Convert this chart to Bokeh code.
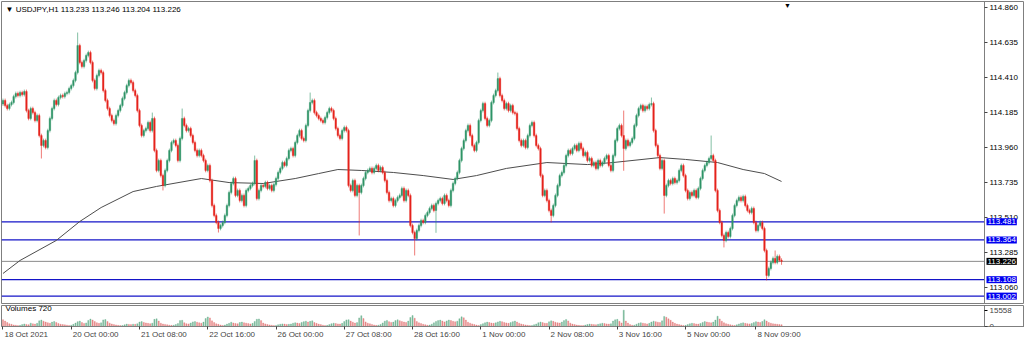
from bokeh.plotting import figure
from bokeh.models import (ColumnDataSource, Range1d, FixedTicker, Label, LinearAxis,
                          PrintfTickFormatter)
from bokeh.layouts import column
from bokeh.embed import file_html
from bokeh.resources import INLINE

# ---------------- data ----------------
title_text = "\u25BC USDJPY,H1  113.233 113.246 113.204 113.226"
volume_title = "Volumes 720"

first_open = 114.240
closes = [
    114.263, 114.230, 114.211, 114.237, 114.250, 114.288, 114.308, 114.295, 114.314, 114.301,
    114.321, 114.198, 114.147, 114.211, 114.185, 114.134, 114.166, 114.037, 113.973, 114.005,
    113.960, 114.069, 114.147, 114.211, 114.263, 114.237, 114.282, 114.295, 114.288, 114.308,
    114.314, 114.340, 114.359, 114.392, 114.443, 114.617, 114.508, 114.482, 114.520, 114.553,
    114.572, 114.508, 114.392, 114.340, 114.424, 114.456, 114.443, 114.327, 114.263, 114.211,
    114.166, 114.134, 114.114, 114.166, 114.198, 114.230, 114.276, 114.314, 114.359, 114.392,
    114.379, 114.327, 114.295, 114.198, 114.102, 114.037, 114.069, 114.082, 114.121, 114.069,
    114.147, 113.941, 113.812, 113.876, 113.779, 113.715, 113.812, 113.876, 113.941, 113.992,
    114.005, 113.973, 113.876, 114.018, 114.147, 114.102, 114.069, 114.082, 114.037, 113.992,
    113.941, 113.908, 113.941, 113.908, 113.876, 113.812, 113.844, 113.747, 113.586, 113.522,
    113.477, 113.438, 113.457, 113.477, 113.522, 113.586, 113.670, 113.728, 113.760, 113.651,
    113.683, 113.618, 113.651, 113.586, 113.683, 113.696, 113.715, 113.728, 113.876, 113.631,
    113.683, 113.715, 113.709, 113.734, 113.696, 113.715, 113.683, 113.721, 113.760, 113.799,
    113.825, 113.863, 113.844, 113.889, 113.941, 113.953, 113.908, 113.992, 114.037, 114.069,
    114.018, 114.005, 114.102, 114.198, 114.250, 114.263, 114.185, 114.166, 114.147, 114.134,
    114.121, 114.153, 114.185, 114.211, 114.198, 114.147, 114.082, 114.037, 114.018, 114.069,
    114.089, 114.069, 113.715, 113.683, 113.747, 113.651, 113.715, 113.670, 113.715, 113.760,
    113.799, 113.812, 113.825, 113.799, 113.825, 113.844, 113.812, 113.831, 113.799, 113.747,
    113.670, 113.618, 113.631, 113.586, 113.618, 113.638, 113.651, 113.696, 113.618, 113.683,
    113.651, 113.457, 113.412, 113.373, 113.425, 113.457, 113.489, 113.477, 113.522, 113.541,
    113.567, 113.586, 113.554, 113.599, 113.618, 113.631, 113.599, 113.651, 113.618, 113.586,
    113.683, 113.728, 113.760, 113.799, 113.876, 113.953, 114.005, 114.069, 114.102, 114.037,
    113.973, 113.941, 113.992, 114.134, 114.198, 114.243, 114.147, 114.102, 114.134, 114.250,
    114.295, 114.327, 114.404, 114.295, 114.263, 114.211, 114.243, 114.198, 114.230, 114.185,
    114.179, 114.082, 114.005, 113.973, 114.005, 113.960, 114.037, 114.102, 114.121, 114.037,
    113.973, 113.953, 113.779, 113.651, 113.683, 113.618, 113.554, 113.522, 113.586, 113.651,
    113.715, 113.779, 113.799, 113.844, 113.908, 113.941, 113.921, 113.953, 113.973, 113.941,
    113.986, 113.953, 113.908, 113.928, 113.876, 113.889, 113.844, 113.863, 113.825, 113.876,
    113.844, 113.863, 113.889, 113.908, 113.844, 113.812, 113.908, 114.005, 114.082, 114.102,
    114.037, 113.953, 114.005, 113.973, 113.992, 114.018, 114.102, 114.166, 114.211, 114.230,
    114.198, 114.224, 114.211, 114.237, 114.243, 114.069, 113.973, 113.908, 113.825, 113.876,
    113.651, 113.715, 113.747, 113.728, 113.760, 113.734, 113.747, 113.812, 113.844, 113.779,
    113.683, 113.631, 113.670, 113.651, 113.683, 113.638, 113.696, 113.760, 113.812, 113.844,
    113.863, 113.889, 113.908, 113.876, 113.683, 113.554, 113.477, 113.393, 113.361, 113.412,
    113.386, 113.438, 113.522, 113.586, 113.618, 113.638, 113.618, 113.644, 113.586, 113.554,
    113.541, 113.567, 113.477, 113.425, 113.457, 113.477, 113.438, 113.296, 113.135, 113.180,
    113.219, 113.245, 113.219, 113.258, 113.233, 113.226,
]
# bars whose wick reaches clearly beyond the body
high_spikes = {35: 114.701, 70: 114.185, 84: 114.211, 118: 113.908, 144: 114.314,
               232: 114.443, 291: 114.198, 304: 114.282, 332: 114.037, 362: 113.296,
               365: 113.246}
low_spikes = {18: 113.889, 75: 113.683, 101: 113.412, 167: 113.393, 193: 113.264,
              203: 113.410, 257: 113.477, 291: 113.810, 310: 113.534, 338: 113.316,
              358: 113.103, 365: 113.204}
wick = 0.012

volumes = [
    6500, 5200, 3800, 2600, 2100, 1500, 1200, 900,
    1100, 1800, 2400, 2000, 1700, 3200, 2600, 2300, 3000, 5400, 6200, 5100, 4300, 3600, 3100, 4200, 4800, 3900, 2900, 2200, 1900, 1600, 1300, 1000,
    1200, 2100, 3300, 4600, 5200, 3800, 2900, 3400, 5800, 7100, 6200, 4800, 3600, 3000, 3500, 6300, 6600, 4700, 3200, 2400, 1800, 1500, 1100, 900,
    1000, 1600, 2300, 2000, 1800, 2200, 2100, 2600, 4300, 4700, 3900, 3400, 3000, 2700, 3200, 6800, 7300, 5200, 3100, 2400, 2000, 1700, 1300, 1100,
    1200, 1900, 2800, 5600, 5900, 3600, 2700, 2500, 3300, 4400, 4700, 4100, 3500, 3100, 4200, 7600, 9100, 8200, 5400, 3800, 2600, 2100, 1500, 1000,
    1400, 2300, 3000, 4100, 3400, 2900, 2600, 3800, 4200, 3600, 3200, 2800, 2500, 3000, 4800, 6900, 7200, 5600, 3300, 2500, 1900, 1500, 1200, 900,
    1000, 1700, 2200, 2500, 2300, 2000, 2100, 2400, 3100, 3600, 3300, 2900, 3900, 4600, 5100, 4300, 4900, 5400, 3800, 3000, 2300, 1800, 1300, 1000,
    1100, 1800, 2700, 3200, 2900, 2500, 2400, 3000, 4700, 6300, 6500, 5200, 4100, 3300, 3700, 8200, 10300, 7600, 4400, 3200, 2600, 2000, 1500, 1100,
    1300, 2000, 3400, 5100, 5800, 4600, 3900, 4200, 5600, 6400, 5500, 4800, 4300, 3900, 5200, 8600, 10400, 7900, 4700, 3500, 2800, 2100, 1700, 1200,
    1400, 2200, 3500, 4800, 5600, 6100, 5200, 4400, 5300, 6200, 5700, 4900, 4500, 5100, 7400, 9200, 8300, 6100, 4100, 3200, 2500, 1900, 1400, 1000,
    1800, 2700, 3600, 4200, 3800, 3300, 3000, 3500, 4400, 5000, 4600, 3900, 3400, 3000, 3700, 4600, 5200, 4300, 3100, 2400, 1900, 1500, 1200, 900,
    1000, 1700, 2400, 3600, 4300, 3700, 3100, 3000, 4500, 5400, 4900, 4100, 3600, 3300, 4200, 5600, 6700, 5300, 3200, 2300, 1800, 1400, 1100, 900,
    900, 1400, 1900, 2300, 2100, 1800, 1700, 2100, 2600, 3100, 2900, 2500, 2300, 2600, 5200, 6400, 6800, 4900, 3400, 15558, 5200, 3300, 1800, 1200,
    1300, 2200, 3100, 3600, 3200, 2800, 2500, 3000, 4300, 5100, 4600, 4100, 3800, 5400, 9600, 8800, 7300, 5900, 4200, 3000, 2300, 1800, 1400, 1000,
    1100, 1800, 2600, 3100, 2800, 2400, 2300, 2900, 3900, 4700, 4300, 3800, 3500, 4200, 6100, 9800, 7200, 5100, 3600, 2700, 2100, 1700, 1300, 1000,
    1600, 2400, 3100, 3500, 3000, 2700, 2500, 2900, 3700, 4600, 4200, 3800, 4800, 6500, 5200, 3800, 3100, 2600, 2400, 2100, 1900, 1700,
]
volume_max_label = 15558

ma_bars = [0, 8, 25, 36, 46, 61, 72, 93, 106, 122, 137, 148, 157, 168, 183, 197, 211,
           222, 236, 255, 274, 286, 308, 320, 335, 347, 357, 365]
ma_values = [113.148, 113.232, 113.361, 113.483, 113.573, 113.676, 113.709, 113.760,
             113.734, 113.728, 113.760, 113.792, 113.818, 113.812, 113.799, 113.779,
             113.754, 113.779, 113.825, 113.863, 113.850, 113.863, 113.895, 113.883,
             113.863, 113.818, 113.792, 113.741]

time_tick_bars = [0, 32, 64, 96, 128, 160, 192, 224, 256, 288, 320, 353]
time_tick_labels = ["18 Oct 2021", "20 Oct 00:00", "21 Oct 08:00", "22 Oct 16:00",
                    "26 Oct 00:00", "27 Oct 08:00", "28 Oct 16:00", "1 Nov 00:00",
                    "2 Nov 08:00", "3 Nov 16:00", "5 Nov 00:00", "8 Nov 09:00"]
price_ticks = [114.860, 114.635, 114.410, 114.185, 113.960, 113.735, 113.510, 113.285, 113.060]
level_lines = [113.481, 113.364, 113.108, 113.002]
current_price = 113.226

# ---------------- derived OHLC ----------------
n = len(closes)
opens = [first_open] + closes[:-1]
xs = list(range(n))
highs, lows, tops, bots, cols = [], [], [], [], []
UP, DOWN = "#2f9467", "#e5231d"
for i in range(n):
    o, c = opens[i], closes[i]
    highs.append(high_spikes.get(i, max(o, c) + wick))
    lows.append(low_spikes.get(i, min(o, c) - wick))
    tops.append(max(o, c))
    bots.append(min(o, c))
    cols.append(UP if c >= o else DOWN)

src = ColumnDataSource(dict(x=xs, high=highs, low=lows, top=tops, bottom=bots, color=cols))

vx = list(range(len(volumes)))
vcols = ["#e06a6a" if i == 0 else ("#5aa882" if volumes[i] > volumes[i - 1] else "#e06a6a")
         for i in vx]
vsrc = ColumnDataSource(dict(x=vx, v=volumes, color=vcols))

# ---------------- layout constants ----------------
FONT = "Liberation Sans"
FS = "8px"
FSPX = 8.0
BORDER = "#7f7f7f"
PX_PER_BAR = 2.133
X_START = -0.70
FRAME_W = 1023
X_END = X_START + FRAME_W / PX_PER_BAR
SCALE_X = X_START + 983.0 / PX_PER_BAR      # where the price scale begins (px 984)

# approximate Arial-metric widths, to start each time label at its tick
CW = {" ": 0.278, ":": 0.278, "O": 0.778, "N": 0.722, "c": 0.5, "t": 0.278, "o": 0.556,
      "v": 0.5}
def text_w(s):
    return sum(CW.get(ch, 0.556) for ch in s) * FSPX

label_pos = [b + (text_w(t) / 2 + 1.5) / PX_PER_BAR for b, t in zip(time_tick_bars, time_tick_labels)]

x_range = Range1d(X_START, X_END)

# ---------------- main price panel ----------------
p = figure(width=1024, height=304, x_range=x_range, y_range=Range1d(112.948, 114.901),
           x_axis_location=None, y_axis_location=None,
           output_backend="svg", toolbar_location=None,
           min_border_left=1, min_border_right=0, min_border_top=1, min_border_bottom=0)
p.grid.visible = False
p.outline_line_color = BORDER
p.background_fill_color = "white"
p.border_fill_color = "white"

# horizontal levels, drawn up to the price scale
p.segment(x0=[X_START] * len(level_lines), x1=[SCALE_X] * len(level_lines),
          y0=level_lines, y1=level_lines, line_color="#1414c8", line_width=1.3)
p.segment(x0=[X_START], x1=[SCALE_X], y0=[current_price], y1=[current_price],
          line_color="#8a8a8a", line_width=1)

ya = LinearAxis(fixed_location=SCALE_X, ticker=FixedTicker(ticks=price_ticks),
                formatter=PrintfTickFormatter(format="%.3f"))
ya.axis_line_color = BORDER
ya.major_tick_out = 3
ya.major_tick_in = 0
ya.major_tick_line_color = "#444444"
ya.minor_tick_line_color = None
ya.major_label_standoff = 2
ya.major_label_text_font = FONT
ya.major_label_text_font_size = FS
ya.major_label_text_color = "#000000"
p.add_layout(ya, "right")

p.line(ma_bars, ma_values, line_color="#4d4d4d", line_width=1)
p.segment(x0="x", y0="low", x1="x", y1="high", source=src, line_color="color",
          line_alpha=0.6, line_width=1)
p.vbar(x="x", width=0.72, top="top", bottom="bottom", source=src,
       fill_color="color", line_color="color", line_width=0.4)

for lvl in level_lines:
    p.add_layout(Label(x=985, x_units="screen", y=lvl, y_units="data",
                       text=f"{lvl:.3f}", text_font=FONT, text_font_size=FS,
                       text_color="white", text_align="left", text_baseline="middle",
                       background_fill_color="#0000f0", padding=1))
p.add_layout(Label(x=985, x_units="screen", y=current_price, y_units="data",
                   text=f"{current_price:.3f}", text_font=FONT, text_font_size=FS,
                   text_color="white", text_align="left", text_baseline="middle",
                   background_fill_color="#000000", padding=1))

p.add_layout(Label(x=4, x_units="screen", y=295, y_units="screen", text=title_text,
                   text_font=FONT, text_font_size=FS, text_color="#000000",
                   text_baseline="middle", text_align="left"))
p.add_layout(Label(x=786, x_units="screen", y=299, y_units="screen", text="\u25BC",
                   text_font=FONT, text_font_size="7px", text_color="#000000",
                   text_baseline="middle", text_align="center"))

# ---------------- volume panel ----------------
v = figure(width=1024, height=37, x_range=x_range, y_range=Range1d(0, 20000),
           y_axis_location=None, output_backend="svg", toolbar_location=None,
           min_border_left=1, min_border_right=0, min_border_top=1, min_border_bottom=0)
v.grid.visible = False
v.outline_line_color = BORDER
v.background_fill_color = "white"
v.border_fill_color = "white"

v.vbar(x="x", width=0.55, top="v", bottom=0, source=vsrc, fill_color="color",
       line_color="color", line_width=0.4, alpha=0.75)

vy = LinearAxis(fixed_location=SCALE_X, ticker=FixedTicker(ticks=[0, volume_max_label]))
vy.axis_line_color = BORDER
vy.major_tick_out = 3
vy.major_tick_in = 0
vy.minor_tick_line_color = None
vy.major_label_standoff = 2
vy.major_label_text_font = FONT
vy.major_label_text_font_size = FS
v.add_layout(vy, "right")

vxa = v.xaxis[0]
vxa.ticker = FixedTicker(ticks=label_pos, minor_ticks=time_tick_bars)
vxa.major_label_overrides = {pos: t for pos, t in zip(label_pos, time_tick_labels)}
vxa.major_label_text_font = FONT
vxa.major_label_text_font_size = FS
vxa.major_label_standoff = 0
vxa.major_tick_out = 0
vxa.major_tick_in = 0
vxa.major_tick_line_color = None
vxa.minor_tick_out = 3
vxa.minor_tick_in = 0
vxa.minor_tick_line_color = "#444444"
vxa.axis_line_color = BORDER

v.add_layout(Label(x=4, x_units="screen", y=18, y_units="screen", text=volume_title,
                   text_font=FONT, text_font_size=FS, text_color="#000000",
                   text_baseline="middle", text_align="left"))

layout = column(p, v, spacing=0)
open("out.html", "w").write(file_html(layout, INLINE))
